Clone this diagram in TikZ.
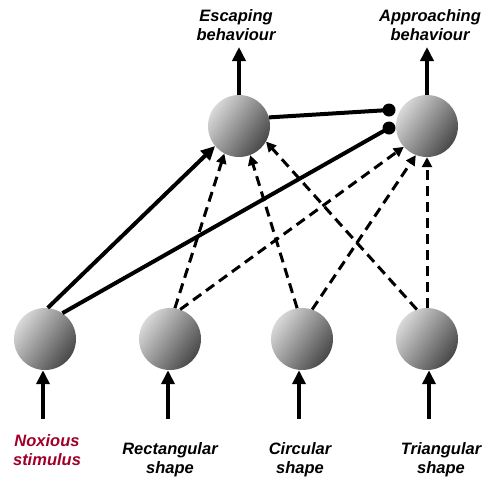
\documentclass[tikz,border=0pt]{standalone}
\usepackage{fontspec}
\setmainfont{Liberation Sans}
\definecolor{noxred}{RGB}{160,0,40}
\usetikzlibrary{arrows.meta,positioning}

\begin{document}
\begin{tikzpicture}[
  x=1pt,y=-1pt,
  every node/.style={font=\fontsize{16.5}{19}\selectfont\bfseries\itshape},
  neuron/.style={circle,minimum size=62pt,inner sep=0pt,
                 shading=axis,top color=gray!30,bottom color=black!72,shading angle=55},
  label/.style={align=center,anchor=base},
  syndot/.style={circle,fill=black,minimum size=13pt,inner sep=0pt},
  excite/.style={-{Triangle[length=14pt,width=13pt]},line width=4pt},
  weak/.style={-{Triangle[length=10pt,width=10pt]},line width=3pt,dash pattern=on 10pt off 6pt},
  inhib/.style={line width=4pt},
]
  \useasboundingbox (0,0) rectangle (486,477);

  % Output layer
  \node[neuron] (esc) at (239,126) {};
  \node[neuron] (app) at (427,126) {};

  % Input layer
  \node[neuron] (nox)  at (45,339) {};
  \node[neuron] (rect) at (170,339) {};
  \node[neuron] (circ) at (302,339) {};
  \node[neuron] (tri)  at (427,339) {};

  % Labels
  \node[label] (escl) at (236,40) {Escaping\\behaviour};
  \node[label] (appl) at (430,40) {Approaching\\behaviour};
  \node[label,text=noxred] (noxl) at (47,465) {Noxious\\stimulus};
  \node[label] (rectl) at (170,473) {Rectangular\\shape};
  \node[label] (circl) at (300,473) {Circular\\shape};
  \node[label] (tril)  at (441,473) {Triangular\\shape};

  % Free ends
  \coordinate (escout) at (239,47);
  \coordinate (appout) at (427,47);
  \coordinate (noxin)  at (43,419);
  \coordinate (rectin) at (168,419);
  \coordinate (circin) at (299,419);
  \coordinate (triin)  at (429,419);

  % Synapse dots
  \node[syndot] (d1) at (389,110) {};
  \node[syndot] (d2) at (389,128) {};

  % Outputs and inputs
  \draw[excite] (esc.north) -- (escout);
  \draw[excite] (app.north) -- (appout);
  \draw[excite] (noxin) -- (noxin |- nox.south);
  \draw[excite] (rectin) -- (rectin |- rect.south);
  \draw[excite] (circin) -- (circin |- circ.south);
  \draw[excite] (triin) -- (triin |- tri.south);

  % Connections
  \draw[excite] (nox.85) -- (esc.220);
  \draw[inhib] (nox.56) -- (d2.center);
  \draw[inhib] (esc.16) -- (d1.center);
  \draw[weak] (rect.81) -- (esc.242);
  \draw[weak] (rect.71) -- (app.222);
  \draw[weak] (circ.99) -- (esc.291);
  \draw[weak] (circ.71) -- (app.249);
  \draw[weak] (tri.109) -- (esc.330);
  \draw[weak] (tri.90) -- (app.270);
\end{tikzpicture}
\end{document}
